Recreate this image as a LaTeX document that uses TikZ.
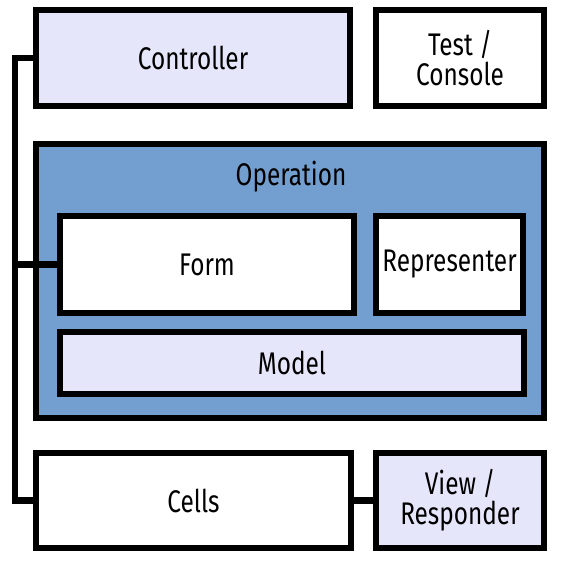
\documentclass[tikz,border=0pt]{standalone}
\usepackage{fontspec}
\setmainfont[FakeStretch=0.78]{Fira Sans}
\usetikzlibrary{positioning}
\definecolor{lavender}{RGB}{230,230,250}
\definecolor{opblue}{RGB}{114,159,207}
\tikzset{
  box/.style={draw,line width=0.13cm,fill=white,align=center,inner sep=0pt,
    font=\fontsize{17.8}{17}\selectfont},
  lightbox/.style={box,fill=lavender},
  wire/.style={line width=0.13cm}
}

\begin{document}
\begin{tikzpicture}[x=0.02cm,y=-0.02cm]
\useasboundingbox (0,0) rectangle (562,568);
\node[box,fill=opblue,minimum width=10.16cm,minimum height=5.48cm] (op) at (290,281){};
\node[font=\fontsize{17.8}{17}\selectfont] (oplabel) at (291,177){Operation};
\node[lightbox,minimum width=6.28cm,minimum height=1.92cm] (ctl) at (193,58){Controller};
\node[box,minimum width=3.36cm,minimum height=1.92cm] (test) at (460,58){Test /\\Console};
\node[box,minimum width=5.88cm,minimum height=1.94cm] (form) at (207,264.5){Form};
\node[box,minimum width=2.94cm,minimum height=1.94cm] (rep) at (449.5,264.5){Representer};
\node[lightbox,minimum width=9.28cm,minimum height=1.24cm] (model) at (292,363){Model};
\node[box,minimum width=6.30cm,minimum height=1.90cm] (cells) at (193.5,500.5){Cells};
\node[lightbox,minimum width=3.36cm,minimum height=1.90cm] (view) at (460,500.5){View /\\Responder};
\coordinate (bustop) at (15,58);
\coordinate (busbot) at (15,500.5);
\draw[wire] (ctl.west) -- (bustop) -- (busbot) -- (cells.west);
\draw[wire] (form.west) -- (form.west -| bustop);
\draw[wire] (cells.east) -- (view.west);
\end{tikzpicture}
\end{document}
